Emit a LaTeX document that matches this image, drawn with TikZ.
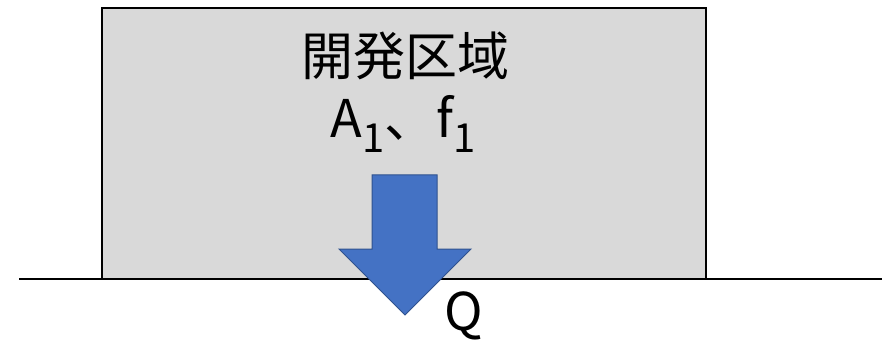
\documentclass[tikz,border=0pt]{standalone}
\usepackage{fontspec}
\setmainfont{Noto Sans CJK JP}
\definecolor{areagray}{HTML}{D9D9D9}
\definecolor{arrowblue}{HTML}{4472C4}
\definecolor{arrowedge}{HTML}{2F528F}
\newcommand{\subone}{\raisebox{-15pt}{\fontsize{40}{40}\selectfont 1}}
\begin{document}
\begin{tikzpicture}[x=1pt,y=-1pt,
  areabox/.style={draw=black, line width=2pt, fill=areagray, minimum width=604pt, minimum height=271pt, inner sep=0pt, anchor=north west},
  bigtext/.style={font=\fontsize{52}{60}\selectfont, inner sep=0pt, anchor=base},
  flowarrow/.style={fill=arrowblue, draw=arrowedge, line width=1pt, line join=miter}]
\useasboundingbox (0,0) rectangle (890,347);
\node[areabox] (area) at (101,7) {};
\coordinate (groundL) at (19,279);
\coordinate (groundR) at (882,279);
\draw[line width=1.5pt] (groundL) -- (groundR);
\path[flowarrow] (372,175) -- (437,175) -- (437,249) -- (471,249) -- (405,315) -- (339,249) -- (372,249) -- cycle;
\node[bigtext] (title) at (405,76) {開発区域};
\node[bigtext] (params) at (403,138) {A\subone、f\subone};
\node[bigtext] (q) at (464,330) {Q};
\end{tikzpicture}
\end{document}
